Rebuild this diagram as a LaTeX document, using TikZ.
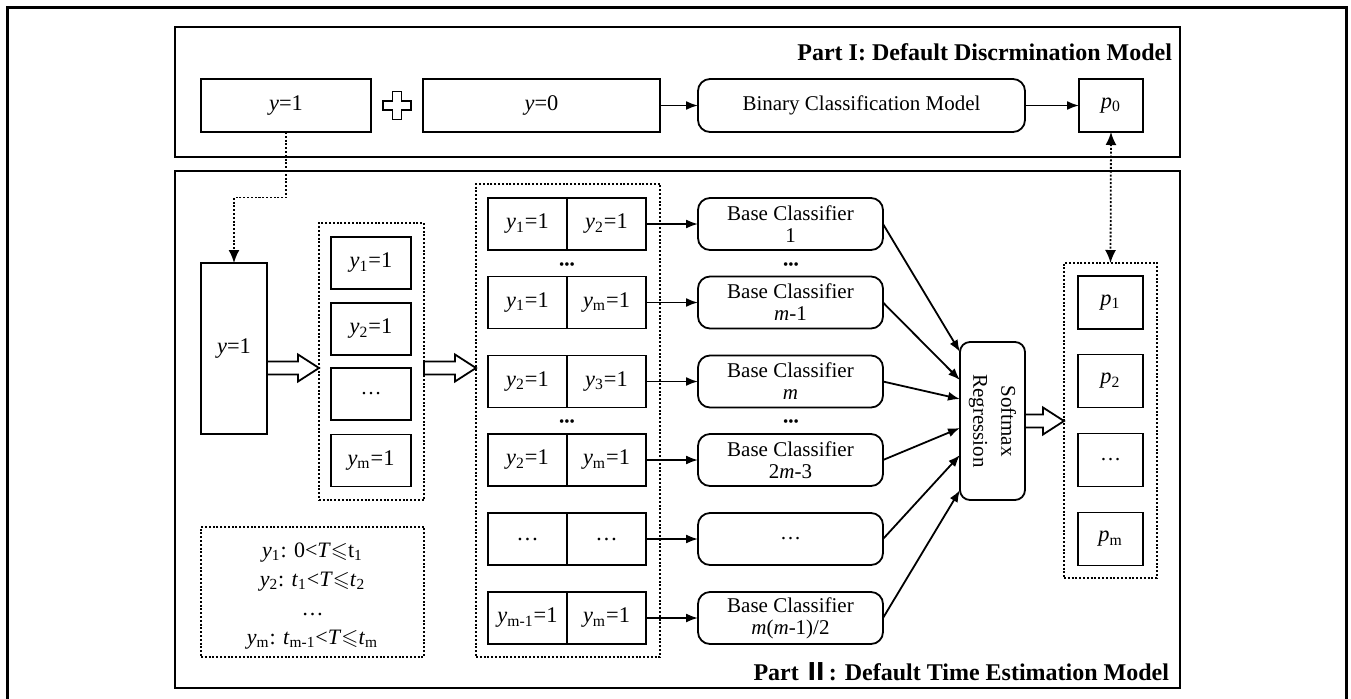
\documentclass[tikz,border=0pt]{standalone}
\usepackage{fontspec}
\usepackage{amssymb}
\setmainfont{Liberation Serif}
\newfontfamily\cjk{Noto Sans CJK SC}
\usetikzlibrary{arrows.meta,calc}

\newcommand\yv[1]{\textit{y}\textsubscript{#1}}
\newcommand\pv[1]{\textit{p}\textsubscript{#1}}
\newcommand\tv[1]{\textit{t}\textsubscript{#1}}
\newcommand\lesl{$\leqslant$}

\begin{document}
\begin{tikzpicture}[x=0.5pt,y=-0.5pt,
  every node/.style={inner sep=0pt, outer sep=0pt, font=\fontsize{10.5}{11}\selectfont},
  box/.style={draw, line width=0.9pt, align=center},
  lbox/.style={box, font=\fontsize{11.2}{12}\selectfont},
  rbox/.style={box, rounded corners=6pt},
  group/.style={draw, line width=0.9pt, dash pattern=on 1pt off 0.9pt},
  partframe/.style={draw, line width=1pt},
  conn/.style={line width=0.9pt, -{Latex[length=6pt,width=4.5pt]}},
  dotconn/.style={line width=0.9pt, dash pattern=on 1pt off 0.9pt, -{Latex[length=6.5pt,width=5.5pt]}},
  dotsep/.style={font=\fontsize{7.5}{8}\selectfont},
  title/.style={anchor=east, font=\fontsize{12}{14}\bfseries\selectfont},
  hollow/.style={draw, line width=0.9pt, fill=white,
    to path={let \p1=(\tikztostart), \p2=(\tikztotarget) in
      (\x1,\y1+3.25pt) -- (\x2-10.5pt,\y1+3.25pt) -- (\x2-10.5pt,\y1+6.75pt)
      -- (\x2,\y1) -- (\x2-10.5pt,\y1-6.75pt) -- (\x2-10.5pt,\y1-3.25pt)
      -- (\x1,\y1-3.25pt) -- cycle}},
]
\useasboundingbox (0,0) rectangle (1351,698);

% outer frame (bottom edge lies below the page)
\draw[line width=1.6pt] (7.5,710) -- (7.5,7.5) -- (1346.5,7.5) -- (1346.5,710);

% ---------------- Part I ----------------
\draw[partframe] (174.5,26.5) rectangle (1180,157);
\node[title] (t1) at (1172,52) {Part I: Default Discrmination Model};

\node[lbox, minimum width=85pt, minimum height=26.5pt] (ytop) at (286,105.5) {\textit{y}=1};
\node[lbox, minimum width=118.5pt, minimum height=26.5pt] (y0) at (541.5,105.5) {\textit{y}=0};
\node[rbox, minimum width=163.5pt, minimum height=26.5pt] (bcm) at (861.5,105.5) {Binary Classification Model};
\node[lbox, minimum width=32pt, minimum height=26.5pt] (p0) at (1111,105.5) {\pv{0}};

% plus sign between the two label boxes
\coordinate (plus) at (397,105.5);
\draw[line width=0.8pt] (plus) ++(-4.5,-14) -- ++(9,0) -- ++(0,9.5) -- ++(9.5,0)
  -- ++(0,9) -- ++(-9.5,0) -- ++(0,9.5) -- ++(-9,0) -- ++(0,-9.5) -- ++(-9.5,0)
  -- ++(0,-9) -- ++(9.5,0) -- cycle;

\draw[conn] (y0) -- (bcm);
\draw[conn] (bcm) -- (p0);

% ---------------- Part II ----------------
\draw[partframe] (174.5,171) rectangle (1180,688);
\node[title] (t2) at (1169,672) {Part {\cjk Ⅱ}: Default Time Estimation Model};

% defaulted samples
\node[lbox, minimum width=33pt, minimum height=85.5pt] (tall) at (234,348.5) {\textit{y}=1};

% split into time classes
\node[group, minimum width=52.5pt, minimum height=138.5pt] (col2) at (371.5,361.5) {};
\node[lbox, minimum width=40pt, minimum height=26pt] (c1) at (371,263) {\yv{1}=1};
\node[lbox, minimum width=40pt, minimum height=26pt] (c2) at (371,329) {\yv{2}=1};
\node[box, minimum width=40pt, minimum height=26pt] (c3) at (371,394) {…};
\node[lbox, minimum width=40pt, minimum height=26pt] (c4) at (371,460.5) {\yv{m}=1};

% pairwise class combinations
\node[group, minimum width=92pt, minimum height=236.5pt] (col3) at (568,420.5) {};
\foreach \i/\yy/\la/\lb in {1/224/\yv{1}=1/\yv{2}=1,
                           2/302.5/\yv{1}=1/\yv{m}=1,
                           3/381.5/\yv{2}=1/\yv{3}=1,
                           4/460/\yv{2}=1/\yv{m}=1,
                           5/539/…/…,
                           6/618/\yv{m-1}=1/\yv{m}=1}{
  \node[lbox, minimum width=39.5pt, minimum height=26pt] (pl\i) at (527.5,\yy) {\la};
  \node[lbox, minimum width=39.5pt, minimum height=26pt] (pr\i) at (606.5,\yy) {\lb};
}
\node[dotsep] (d1) at (567,266) {•••};
\node[dotsep] (d2) at (567,423) {•••};

% base classifiers
\node[rbox, minimum width=92.5pt, minimum height=26pt] (k1) at (790.5,224) {Base Classifier\\1};
\node[rbox, minimum width=92.5pt, minimum height=26pt] (k2) at (790.5,302.5) {Base Classifier\\\textit{m}-1};
\node[rbox, minimum width=92.5pt, minimum height=26pt] (k3) at (790.5,381.5) {Base Classifier\\\textit{m}};
\node[rbox, minimum width=92.5pt, minimum height=26pt] (k4) at (790.5,460) {Base Classifier\\2\textit{m}-3};
\node[rbox, minimum width=92.5pt, minimum height=26pt] (k5) at (790.5,539) {…};
\node[rbox, minimum width=92.5pt, minimum height=26pt] (k6) at (790.5,618) {Base Classifier\\\textit{m}(\textit{m}-1)/2};
\node[dotsep] (d3) at (791,266) {•••};
\node[dotsep] (d4) at (791,423) {•••};

\foreach \i in {1,...,6}{ \draw[conn] (pr\i.east) -- (k\i.west); }

% meta learner
\node[rbox, rounded corners=5pt, minimum width=32.5pt, minimum height=79pt] (soft) at (992.5,421) {};
\node[rotate=-90, align=center, font=\fontsize{10.5}{14}\selectfont] (softtxt) at (soft.center) {Softmax\\Regression};

\foreach \i/\f in {1/0.063,2/0.241,3/0.361,4/0.544,5/0.715,6/0.937}{
  \draw[conn] (k\i.east) -- ($(soft.north west)!\f!(soft.south west)$);
}

% output probabilities
\node[group, minimum width=46.5pt, minimum height=157.5pt] (pcol) at (1110.5,420.5) {};
\node[lbox, minimum width=32.5pt, minimum height=26.5pt] (q1) at (1110.5,302.5) {\pv{1}};
\node[lbox, minimum width=32.5pt, minimum height=26.5pt] (q2) at (1110.5,381) {\pv{2}};
\node[box, minimum width=32.5pt, minimum height=26.5pt] (q3) at (1110.5,460) {…};
\node[lbox, minimum width=32.5pt, minimum height=26.5pt] (q4) at (1110.5,539) {\pv{m}};

% class definitions
\node[group, minimum width=111.5pt, minimum height=65pt] (legend) at (312.5,592) {};
\node[align=center, font=\fontsize{11}{14.5}\selectfont] (legtxt) at (312.5,596) {%
  \yv{1}: 0<\textit{T}\lesl t\textsubscript{1}\\
  \yv{2}: \tv{1}<\textit{T}\lesl\tv{2}\\
  …\\
  \yv{m}: \tv{m-1}<\textit{T}\lesl\tv{m}};

% hollow flow arrows
\coordinate (h1) at (0,368);
\draw[hollow] (tall.east |- h1) to (col2.west |- h1);
\draw[hollow] (col2.east |- h1) to (col3.west |- h1);
\draw[hollow] (soft.east) to (pcol.west |- soft.east);

% dotted links between the two parts
\draw[dotconn] (ytop.south) |- ($(ytop.south)!0.5!(tall.north)$) -| (tall.north);
\draw[dotconn, {Latex[length=6.5pt,width=5.5pt]}-{Latex[length=6.5pt,width=5.5pt]}] (p0.south) -- (pcol.north);
\end{tikzpicture}
\end{document}
